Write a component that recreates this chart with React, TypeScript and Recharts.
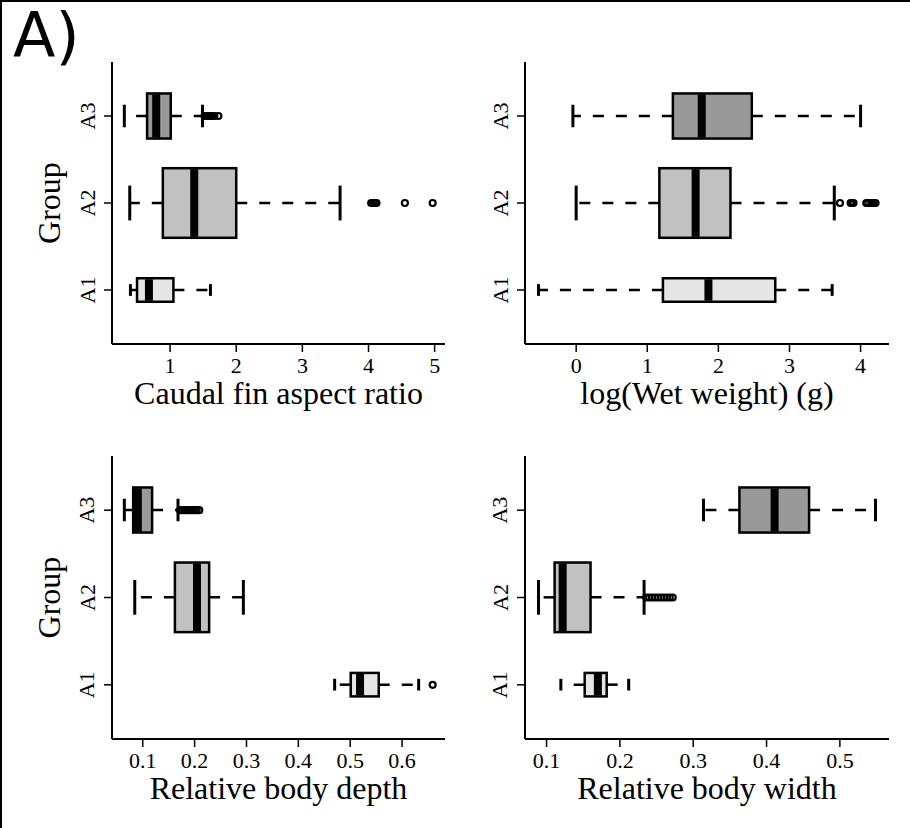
import React from 'react';
import { ComposedChart, Bar, Scatter, XAxis, YAxis } from 'recharts';

const GROUPS = ['A1', 'A2', 'A3'];
// group sizes (box heights follow sqrt(n), as in R's varwidth)
const GROUP_N = [41, 360, 151];
const GROUP_FILL = ['#e5e5e5', '#c1c1c1', '#999999'];

// per group: [lower whisker, q1, median, q3, upper whisker]
const FIN_STATS = [
  [0.4, 0.5, 0.68, 1.05, 1.61],
  [0.39, 0.89, 1.365, 2.0, 3.57],
  [0.308, 0.652, 0.79, 1.01, 1.49],
];
const FIN_OUTLIERS = [
  [],
  [4.04, 4.07, 4.1, 4.12, 4.55, 4.97],
  [1.52, 1.55, 1.57, 1.6, 1.62, 1.64, 1.67, 1.73],
];
const FIN_TICKS = [1, 2, 3, 4, 5];

const WEIGHT_STATS = [
  [-0.53, 1.22, 1.86, 2.8, 3.6],
  [0.0, 1.17, 1.68, 2.17, 3.63],
  [-0.046, 1.36, 1.766, 2.47, 4.0],
];
const WEIGHT_OUTLIERS = [
  [],
  [3.71, 3.86, 3.88, 3.9, 4.08, 4.11, 4.15, 4.18, 4.21],
  [],
];
const WEIGHT_TICKS = [0, 1, 2, 3, 4];

const DEPTH_STATS = [
  [0.47, 0.501, 0.519, 0.555, 0.632],
  [0.0846, 0.162, 0.2046, 0.228, 0.294],
  [0.0645, 0.0815, 0.0905, 0.118, 0.168],
];
const DEPTH_OUTLIERS = [
  [0.659],
  [],
  [0.172, 0.176, 0.18, 0.184, 0.188, 0.192, 0.196, 0.2, 0.204, 0.209],
];
const DEPTH_TICKS = [0.1, 0.2, 0.3, 0.4, 0.5, 0.6];

const WIDTH_STATS = [
  [0.1195, 0.152, 0.17, 0.182, 0.212],
  [0.089, 0.111, 0.122, 0.16, 0.233],
  [0.314, 0.363, 0.411, 0.458, 0.5486],
];
const WIDTH_OUTLIERS = [
  [],
  [0.236, 0.24, 0.244, 0.248, 0.252, 0.256, 0.26, 0.264, 0.268, 0.272],
  [],
];
const WIDTH_TICKS = [0.1, 0.2, 0.3, 0.4, 0.5];

const SERIF = '"Liberation Serif", "Times New Roman", serif';
const N_MAX = Math.max(...GROUP_N);

const buildRows = (stats: number[][]) =>
  GROUPS.map((group, i) => ({
    group,
    span: [stats[i][0], stats[i][4]],
    q1: stats[i][1],
    med: stats[i][2],
    q3: stats[i][3],
    n: GROUP_N[i],
    fill: GROUP_FILL[i],
  }));

const buildOutliers = (outs: number[][]) =>
  GROUPS.flatMap((group, i) => outs[i].map((value) => ({ group, value })));

// R's default axis: data range widened by 4% each side
const paddedDomain = (stats: number[][], outs: number[][]) => {
  const vals = stats.flat().concat(outs.flat());
  const min = Math.min(...vals);
  const max = Math.max(...vals);
  const pad = (max - min) * 0.04;
  return [min - pad, max + pad];
};

const BoxShape = (props: any) => {
  const { x, y, width, height } = props;
  const d = props.payload ?? props;
  const [lo, hi] = d.span;
  const px = (v: number) => x + ((v - lo) / (hi - lo)) * width;
  const cy = y + height / 2;
  const bh = height * 0.8 * Math.sqrt(d.n / N_MAX);
  const top = cy - bh / 2;
  const cap = bh / 4;
  const xq1 = px(d.q1);
  const xq3 = px(d.q3);
  const xm = px(d.med);
  return (
    <g>
      <line x1={xq1} x2={x} y1={cy} y2={cy} stroke="#000" strokeWidth={2.5} strokeDasharray="11 12" />
      <line x1={xq3} x2={x + width} y1={cy} y2={cy} stroke="#000" strokeWidth={2.5} strokeDasharray="11 12" />
      <line x1={x} x2={x} y1={cy - cap} y2={cy + cap} stroke="#000" strokeWidth={3} />
      <line x1={x + width} x2={x + width} y1={cy - cap} y2={cy + cap} stroke="#000" strokeWidth={3} />
      <rect x={xq1} y={top} width={xq3 - xq1} height={bh} fill={d.fill} stroke="#000" strokeWidth={2.5} />
      <line x1={xm} x2={xm} y1={top + 1} y2={top + bh - 1} stroke="#000" strokeWidth={8} />
    </g>
  );
};

const OutlierShape = (props: any) => (
  <circle cx={props.cx} cy={props.cy} r={3} fill="none" stroke="#000" strokeWidth={2.2} />
);

const XTick = ({ x, y, payload }: any) => (
  <text x={x} y={y + 21} textAnchor="middle" fontFamily={SERIF} fontSize={22} fill="#000">
    {payload.value}
  </text>
);

const YTick = ({ x, y, payload }: any) => {
  const bx = x - 9.5;
  return (
    <text x={bx} y={y} transform={`rotate(-90 ${bx} ${y})`} textAnchor="middle" fontFamily={SERIF} fontSize={22} fill="#000">
      {payload.value}
    </text>
  );
};

const PANELS = [
  { stats: FIN_STATS, outliers: FIN_OUTLIERS, ticks: FIN_TICKS, title: 'Caudal fin aspect ratio', groupLabel: true, left: 0, top: 0, width: 455, height: 420, plotLeft: 112, plotTop: 62, plotRight: 445, plotBottom: 344 },
  { stats: WEIGHT_STATS, outliers: WEIGHT_OUTLIERS, ticks: WEIGHT_TICKS, title: 'log(Wet weight) (g)', groupLabel: false, left: 455, top: 0, width: 455, height: 420, plotLeft: 70, plotTop: 62, plotRight: 434, plotBottom: 344 },
  { stats: DEPTH_STATS, outliers: DEPTH_OUTLIERS, ticks: DEPTH_TICKS, title: 'Relative body depth', groupLabel: true, left: 0, top: 420, width: 455, height: 408, plotLeft: 112, plotTop: 36, plotRight: 445, plotBottom: 319 },
  { stats: WIDTH_STATS, outliers: WIDTH_OUTLIERS, ticks: WIDTH_TICKS, title: 'Relative body width', groupLabel: false, left: 455, top: 420, width: 455, height: 408, plotLeft: 70, plotTop: 36, plotRight: 434, plotBottom: 319 },
];

const frame = { stroke: '#000', strokeWidth: 2 };

const Panel = ({ p }: { p: (typeof PANELS)[number] }) => {
  const rows = buildRows(p.stats);
  const outs = buildOutliers(p.outliers);
  const domain = paddedDomain(p.stats, p.outliers);
  return (
    <div style={{ position: 'absolute', left: p.left, top: p.top }}>
      <ComposedChart
        width={p.width}
        height={p.height}
        data={rows}
        layout="vertical"
        margin={{ top: p.plotTop, right: p.width - p.plotRight, left: 0, bottom: 0 }}
        barCategoryGap={0}
        barGap={0}
      >
        <XAxis
          type="number"
          domain={domain}
          ticks={p.ticks}
          allowDataOverflow
          height={p.height - p.plotBottom}
          tickSize={8}
          tickMargin={0}
          tick={<XTick />}
          tickLine={{ stroke: '#000', strokeWidth: 1.5 }}
          axisLine={frame}
          label={{
            content: ({ viewBox }: any) =>
              viewBox ? (
                <text x={viewBox.x + viewBox.width / 2} y={viewBox.y + 60} textAnchor="middle" fontFamily={SERIF} fontSize={32} fill="#000">
                  {p.title}
                </text>
              ) : null,
          }}
        />
        <YAxis
          type="category"
          dataKey="group"
          reversed
          allowDuplicatedCategory={false}
          padding={{ top: 10.5, bottom: 10.5 }}
          width={p.plotLeft}
          tickSize={8}
          tickMargin={0}
          tick={<YTick />}
          tickLine={{ stroke: '#000', strokeWidth: 1.5 }}
          axisLine={frame}
          label={
            p.groupLabel
              ? {
                  content: ({ viewBox }: any) => {
                    if (!viewBox) return null;
                    const gx = viewBox.x + viewBox.width - 52;
                    const gy = viewBox.y + viewBox.height / 2;
                    return (
                      <text x={gx} y={gy} transform={`rotate(-90 ${gx} ${gy})`} textAnchor="middle" fontFamily={SERIF} fontSize={32} fill="#000">
                        Group
                      </text>
                    );
                  },
                }
              : undefined
          }
        />
        <XAxis xAxisId="top" orientation="top" type="number" domain={domain} allowDataOverflow height={0} tick={false} tickLine={false} axisLine={frame} />
        <YAxis yAxisId="right" orientation="right" type="number" domain={[0, 1]} width={0} tick={false} tickLine={false} axisLine={frame} />
        <Bar dataKey="span" shape={<BoxShape />} isAnimationActive={false} />
        <Scatter data={outs} dataKey="value" shape={<OutlierShape />} isAnimationActive={false} />
      </ComposedChart>
    </div>
  );
};

export default function App() {
  return (
    <div style={{ position: 'absolute', left: 0, top: 0, width: 910, height: 828, background: '#fff', overflow: 'hidden' }}>
      {PANELS.map((p) => (
        <Panel key={p.title} p={p} />
      ))}
      <svg width={120} height={80} style={{ position: 'absolute', left: 0, top: 0 }}>
        <text x={13} y={57} fontFamily='"DejaVu Sans", sans-serif' fontSize={62} fill="#000">
          A)
        </text>
      </svg>
      <div
        style={{
          position: 'absolute',
          left: 0,
          top: 0,
          width: 910,
          height: 828,
          boxSizing: 'border-box',
          borderLeft: '2px solid #000',
          borderTop: '2px solid #000',
          pointerEvents: 'none',
        }}
      />
    </div>
  );
}
